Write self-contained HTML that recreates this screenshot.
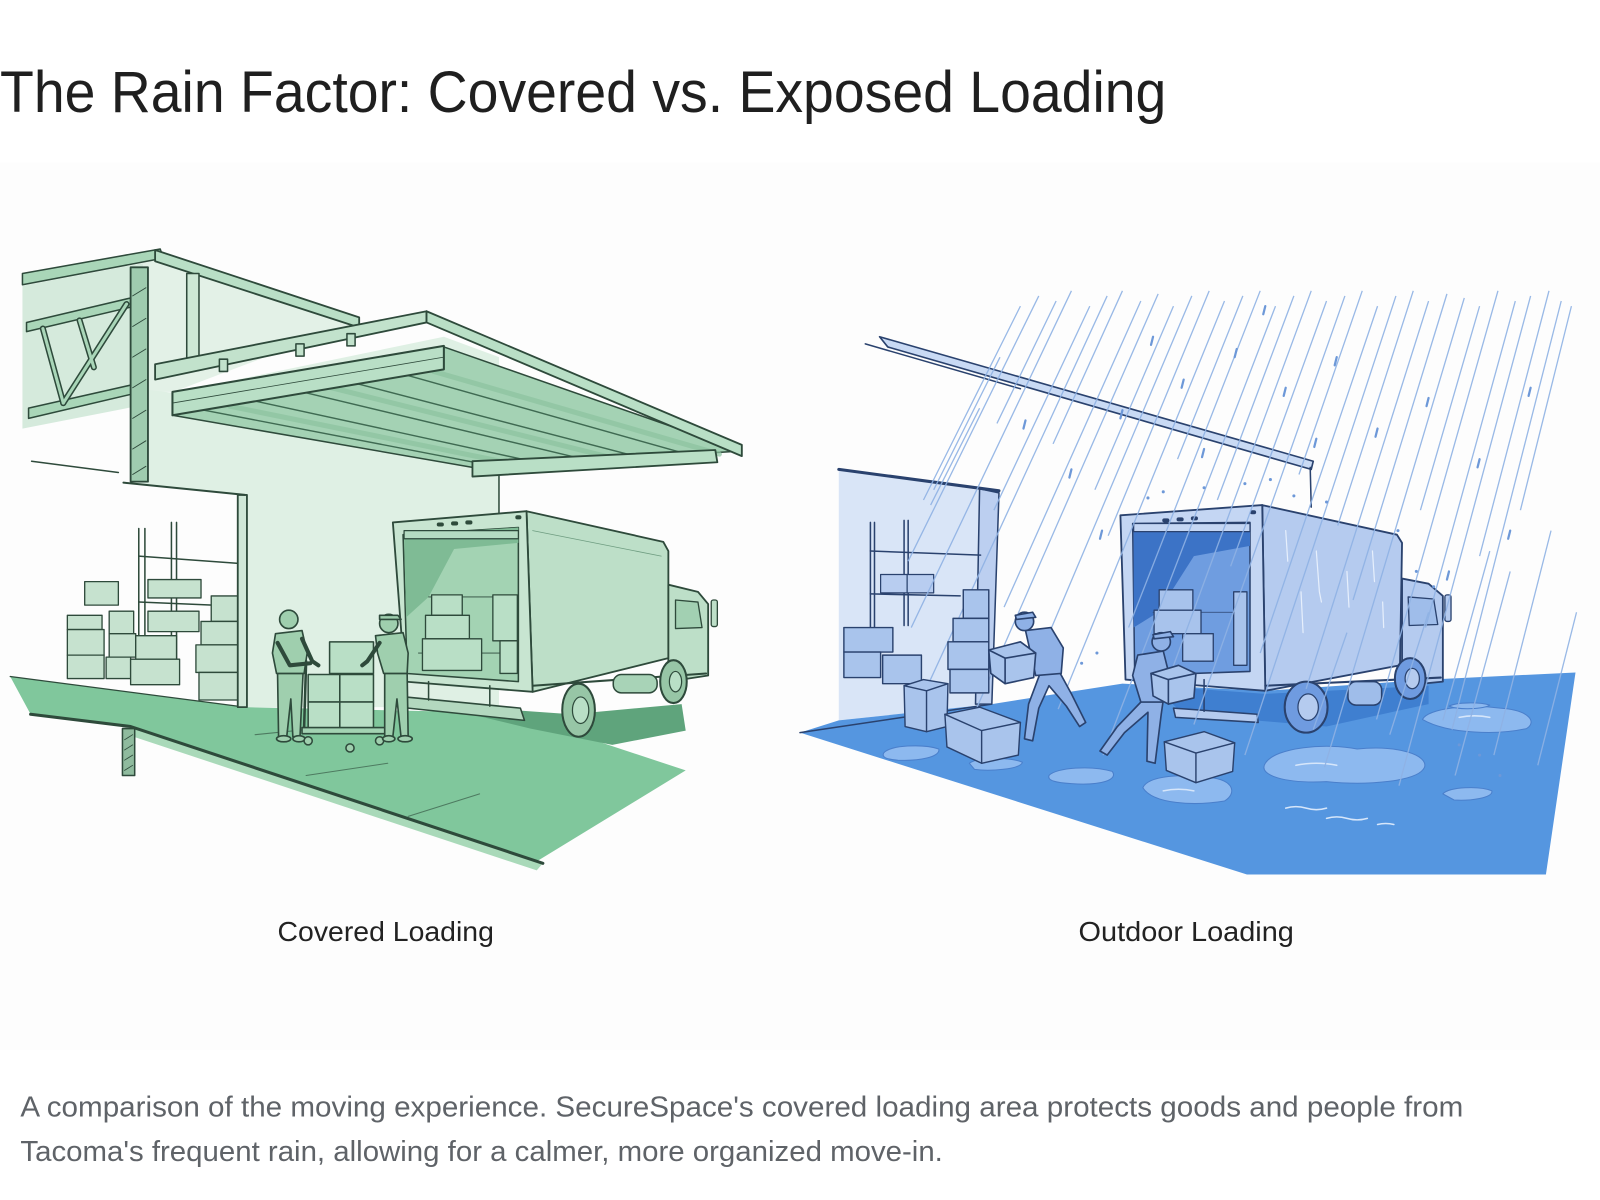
<!DOCTYPE html>
<html><head><meta charset="utf-8"><style>
html,body{margin:0;padding:0;background:#fff;width:1600px;height:1200px;overflow:hidden}
svg{display:block}
</style></head><body>
<svg width="1600" height="1200" viewBox="0 0 1568 1176" xmlns="http://www.w3.org/2000/svg" font-family="'Liberation Sans', Arial, sans-serif">
<rect x="0" y="0" width="1568" height="1176" fill="#fff"/>
<rect x="0" y="159" width="1568" height="870" fill="#fdfdfd"/>
<text x="0" y="110" font-size="57" fill="#1f1f1f" textLength="1143" lengthAdjust="spacingAndGlyphs">The Rain Factor: Covered vs. Exposed Loading</text>

<!-- ================= LEFT: COVERED ================= -->
<g stroke="#2e4a3b" stroke-linejoin="round" stroke-linecap="round">
  <polygon points="22,280 150,256 150,395 22,420" fill="#d5eadc" stroke="none"/>
  <polygon points="140,250 350,316 170,384 140,384" fill="#e3f1e7" stroke="none"/>
  <polygon points="128,380 170,385 435,330 489,350 489,693 240,693 240,485 128,473" fill="#dff0e4" stroke="none"/>
  <line x1="489" y1="452" x2="489" y2="505" stroke-width="1.5"/>
  <line x1="31" y1="452" x2="116" y2="463" stroke-width="1.5"/>

  <!-- floor -->
  <polygon points="10,663 240,693 470,698 560,718 672,755 523,846 128,712 30,700" fill="#80c79c" stroke="none"/>
  <polygon points="128,712 532,846 526,853 128,721" fill="#a9d9b9" stroke="none"/>
  <polyline points="30,700 128,712 532,846" fill="none" stroke-width="3"/>
  <line x1="10" y1="663" x2="240" y2="693" stroke-width="1.2"/>
  <line x1="300" y1="760" x2="380" y2="748" stroke-width="1" stroke="#4d7a60"/>
  <line x1="400" y1="800" x2="470" y2="778" stroke-width="1" stroke="#4d7a60"/>
  <line x1="250" y1="720" x2="330" y2="712" stroke-width="1" stroke="#4d7a60"/>
  <rect x="120" y="714" width="12" height="46" fill="#8fbb9e" stroke-width="1.5"/>
  <line x1="122" y1="725" x2="130" y2="720" stroke-width="0.8"/>
  <line x1="122" y1="735" x2="130" y2="730" stroke-width="0.8"/>
  <line x1="122" y1="745" x2="130" y2="740" stroke-width="0.8"/>
  <line x1="122" y1="755" x2="130" y2="750" stroke-width="0.8"/>

  <!-- shelves inside -->
  <g stroke-width="1.5" fill="none">
    <line x1="136" y1="518" x2="136" y2="665"/>
    <line x1="142" y1="518" x2="142" y2="665"/>
    <line x1="168" y1="512" x2="168" y2="650"/>
    <line x1="173" y1="512" x2="173" y2="650"/>
    <line x1="136" y1="545" x2="232" y2="552"/>
    <line x1="136" y1="590" x2="232" y2="594"/>
  </g>
  <g fill="#c6e2cf" stroke-width="1.3">
    <rect x="83" y="570" width="33" height="23"/>
    <rect x="145" y="568" width="52" height="18"/>
    <rect x="66" y="603" width="34" height="14"/>
    <rect x="66" y="617" width="36" height="25"/>
    <rect x="66" y="642" width="36" height="23"/>
    <rect x="107" y="599" width="24" height="22"/>
    <rect x="107" y="621" width="26" height="23"/>
    <rect x="104" y="644" width="24" height="21"/>
    <rect x="145" y="599" width="50" height="20"/>
    <rect x="133" y="623" width="40" height="23"/>
    <rect x="128" y="646" width="48" height="25"/>
    <rect x="207" y="584" width="26" height="25"/>
    <rect x="197" y="609" width="36" height="23"/>
    <rect x="192" y="632" width="41" height="27"/>
    <rect x="195" y="659" width="38" height="27"/>
  </g>

  <rect x="233" y="485" width="9" height="208" fill="#cfe7d7" stroke-width="1.8"/>
  <polyline points="121,473 240,485" fill="none" stroke-width="2"/>

  <!-- truss -->
  <polygon points="22,268 157,244 160,253 22,279" fill="#a9d6b8" stroke-width="1.5"/>
  <polygon points="26,316 128,292 128,301 26,325" fill="#a9d6b8" stroke-width="1.5"/>
  <polygon points="28,400 143,374 143,383 28,410" fill="#a9d6b8" stroke-width="1.5"/>
  <g stroke-width="6" stroke="#2e4a3b"><line x1="42" y1="322" x2="62" y2="395"/><line x1="62" y1="395" x2="124" y2="298"/><line x1="78" y1="314" x2="92" y2="360"/></g>
  <g stroke-width="3" stroke="#a9d6b8"><line x1="42" y1="322" x2="62" y2="395"/><line x1="62" y1="395" x2="124" y2="298"/><line x1="78" y1="314" x2="92" y2="360"/></g>
  <rect x="128" y="262" width="17" height="210" fill="#9fccaf" stroke-width="1.8"/>
  <g stroke-width="0.9"><line x1="130" y1="290" x2="143" y2="282"/><line x1="130" y1="320" x2="143" y2="312"/><line x1="130" y1="350" x2="143" y2="342"/><line x1="130" y1="380" x2="143" y2="372"/><line x1="130" y1="410" x2="143" y2="402"/><line x1="130" y1="440" x2="143" y2="432"/><line x1="130" y1="465" x2="143" y2="457"/></g>
  <polygon points="152,245 352,311 352,321 152,256" fill="#b9dfc6" stroke-width="1.8"/>
  <rect x="183" y="268" width="12" height="95" fill="#cde8d5" stroke-width="1.5"/>

  <!-- canopy underside -->
  <polygon points="169,407 435,340 727,442 463,458" fill="#a4d2b4" stroke-width="1.5"/>
  <g stroke-width="1.4" stroke="#3f6a52">
    <line x1="200" y1="402" x2="480" y2="456"/>
    <line x1="250" y1="393" x2="530" y2="454"/>
    <line x1="300" y1="385" x2="580" y2="452"/>
    <line x1="350" y1="376" x2="630" y2="449"/>
    <line x1="400" y1="368" x2="680" y2="447"/>
  </g>
  <g stroke-width="5" stroke="#8cc3a0" opacity="0.7">
    <line x1="225" y1="398" x2="505" y2="455"/>
    <line x1="325" y1="380" x2="605" y2="450"/>
    <line x1="425" y1="364" x2="705" y2="445"/>
  </g>
  <polygon points="152,357 418,305 418,316 152,372" fill="#c2e2cc" stroke-width="1.8"/>
  <polygon points="418,305 727,436 727,447 418,316" fill="#b9dfc6" stroke-width="1.8"/>
  <g stroke-width="1.5" fill="#c2e2cc">
    <rect x="215" y="352" width="8" height="12"/>
    <rect x="290" y="337" width="8" height="12"/>
    <rect x="340" y="327" width="8" height="12"/>
  </g>
  <polygon points="169,384 435,339 435,362 169,407" fill="#b9dfc6" stroke-width="2"/>
  <line x1="169" y1="395" x2="435" y2="350" stroke-width="0.8"/>
  <polygon points="463,452 701,441 703,453 463,467" fill="#b9dfc6" stroke-width="1.8"/>

  <!-- truck -->
  <polygon points="420,690 560,700 668,690 672,716 600,730 520,714" fill="#5fa47c" stroke="none"/>
  <polygon points="516,501 650,531 655,540 655,645 522,678" fill="#bddfc8" stroke-width="1.8"/>
  <line x1="522" y1="520" x2="648" y2="545" stroke-width="0.8" stroke="#6e9c80"/>
  <polygon points="385,512 516,501 522,678 397,668" fill="#c8e5d1" stroke-width="1.8"/>
  <polygon points="395,524 508,517 508,668 399,660" fill="#a3d3b3" stroke-width="1.5"/>
  <polygon points="396,524 508,517 508,532 445,538 420,585 398,605" fill="#7fbb95" stroke="none"/>
  <rect x="396" y="520" width="112" height="8" fill="#b5dcc2" stroke-width="1.2"/>
  <line x1="420" y1="585" x2="505" y2="585" stroke-width="0.8"/>
  <line x1="410" y1="640" x2="508" y2="640" stroke-width="0.8"/>
  <g fill="#2e4a3b" stroke="none">
    <rect x="428" y="512" width="7" height="4" rx="2"/>
    <rect x="442" y="511" width="7" height="4" rx="2"/>
    <rect x="456" y="510" width="7" height="4" rx="2"/>
    <rect x="505" y="505" width="6" height="4" rx="2"/>
  </g>
  <g fill="#b9dfc6" stroke-width="1.3">
    <rect x="423" y="583" width="30" height="20"/>
    <rect x="417" y="603" width="43" height="23"/>
    <rect x="414" y="626" width="58" height="31"/>
    <rect x="483" y="583" width="24" height="45"/>
    <rect x="490" y="628" width="17" height="32"/>
  </g>
  <polygon points="655,573 684,580 694,592 694,662 655,668" fill="#bddfc8" stroke-width="1.8"/>
  <polygon points="662,588 684,590 688,615 662,616" fill="#a2d0b2" stroke-width="1.3"/>
  <rect x="697" y="588" width="6" height="26" rx="2" fill="#bddfc8" stroke-width="1.3"/>
  <line x1="522" y1="672" x2="692" y2="660" stroke-width="2"/>
  <rect x="601" y="661" width="43" height="18" rx="8" fill="#a8d3b7" stroke-width="1.5"/>
  <ellipse cx="567" cy="696" rx="16" ry="26" fill="#97c6a6" stroke-width="2"/>
  <ellipse cx="569" cy="696" rx="8" ry="13" fill="#b9dfc6" stroke-width="1.2"/>
  <ellipse cx="660" cy="668" rx="13" ry="21" fill="#97c6a6" stroke-width="2"/>
  <ellipse cx="662" cy="668" rx="6" ry="10" fill="#b9dfc6" stroke-width="1.2"/>
  <polygon points="397,683 510,694 514,706 400,694" fill="#b3d8bf" stroke-width="1.5"/>
  <line x1="420" y1="668" x2="420" y2="686" stroke-width="1.5"/>
  <line x1="480" y1="672" x2="480" y2="692" stroke-width="1.5"/>

  <!-- left man -->
  <g fill="#9fcfae" stroke-width="1.6">
    <polygon points="272,660 297,660 294,722 287,722 285,685 281,722 273,722"/>
    <path d="M270,621 L296,618 L301,640 L298,660 L271,660 L267,640 Z"/>
    <circle cx="283" cy="607" r="9"/>
    <path d="M296,626 L306,648 L312,652" fill="none" stroke-width="4"/>
    <path d="M272,630 L284,652 L304,650" fill="none" stroke-width="4"/>
    <ellipse cx="278" cy="724" rx="7" ry="3"/>
    <ellipse cx="293" cy="724" rx="6" ry="3"/>
  </g>
  <g fill="#b9dfc6" stroke-width="1.5">
    <line x1="300" y1="648" x2="298" y2="714" stroke-width="2.5"/>
    <rect x="302" y="661" width="31" height="27"/>
    <rect x="333" y="661" width="33" height="27"/>
    <rect x="302" y="688" width="31" height="26"/>
    <rect x="333" y="688" width="33" height="26"/>
    <rect x="323" y="629" width="43" height="31"/>
    <rect x="296" y="713" width="86" height="6" fill="#a3d3b3"/>
    <circle cx="302" cy="726" r="4" fill="#9fcfae"/>
    <circle cx="343" cy="733" r="4" fill="#9fcfae"/>
    <circle cx="372" cy="726" r="4" fill="#9fcfae"/>
  </g>
  <g fill="#9fcfae" stroke-width="1.6">
    <polygon points="377,660 399,660 400,722 393,722 389,685 385,722 377,722"/>
    <path d="M368,623 L395,620 L400,640 L399,660 L376,660 L370,640 Z"/>
    <circle cx="381" cy="611" r="9"/>
    <path d="M372,603 L390,603 L393,607 L372,607 Z"/>
    <path d="M372,630 L360,648 L355,652" fill="none" stroke-width="4"/>
    <ellipse cx="381" cy="724" rx="6" ry="3"/>
    <ellipse cx="397" cy="724" rx="7" ry="3"/>
  </g>
</g>

<!-- ================= RIGHT: OUTDOOR ================= -->
<g stroke="#2a426e" stroke-linejoin="round" stroke-linecap="round">
  <polygon points="822,460 979,483 972,690 822,706" fill="#d9e5f7" stroke="none"/>
  <polygon points="960,479 979,483 972,690 956,690" fill="#bccff0" stroke-width="1.5"/>
  <line x1="822" y1="460" x2="979" y2="481" stroke-width="3"/>
  <g stroke-width="1.5" fill="none">
    <line x1="853" y1="512" x2="853" y2="615"/>
    <line x1="857" y1="512" x2="857" y2="615"/>
    <line x1="886" y1="510" x2="886" y2="613"/>
    <line x1="890" y1="510" x2="890" y2="613"/>
    <line x1="853" y1="540" x2="961" y2="544"/>
    <line x1="853" y1="582" x2="941" y2="584"/>
  </g>
  <rect x="863" y="563" width="26" height="18" fill="#b8cdf0" stroke-width="1.2"/>
  <rect x="889" y="563" width="26" height="18" fill="#b8cdf0" stroke-width="1.2"/>

  <polygon points="784,718 822,706 972,690 1100,670 1240,677 1400,666 1544,659 1515,857 1222,857" fill="#5596e0" stroke="none"/>
  <line x1="784" y1="718" x2="972" y2="690" stroke-width="1.5"/>

  <!-- overhang beam -->
  <line x1="848" y1="337" x2="1000" y2="381" stroke-width="1.5"/>
  <polygon points="862,330 1287,452 1285,460 870,340" fill="#c9daf4" stroke-width="1.6"/>
  <line x1="1284" y1="458" x2="1285" y2="497" stroke-width="1.5"/>

  <!-- puddles -->
  <g fill="#8db9ef" stroke="#4a7fcb" stroke-width="1">
    <path d="M1240,748 C1250,732 1300,728 1330,734 C1370,730 1400,740 1396,752 C1390,766 1340,770 1300,766 C1260,768 1232,760 1240,748 Z"/>
    <path d="M1394,705 C1400,694 1440,690 1470,694 C1500,696 1506,708 1496,714 C1470,720 1420,720 1394,705 Z"/>
    <path d="M1120,772 C1125,760 1160,758 1185,762 C1210,764 1212,778 1200,785 C1170,790 1130,788 1120,772 Z"/>
    <path d="M1028,760 C1035,752 1070,750 1090,756 C1096,764 1080,770 1050,768 C1035,767 1026,765 1028,760 Z"/>
    <path d="M866,738 C872,730 905,729 920,734 C922,742 900,746 880,745 C868,744 864,742 866,738 Z"/>
    <path d="M1414,778 C1420,771 1450,770 1462,775 C1464,782 1440,785 1425,784 Z"/>
    <path d="M950,748 C958,742 990,742 1002,747 C1000,754 970,756 955,754 Z"/>
    <path d="M1250,694 C1258,689 1282,689 1290,693 C1286,699 1262,700 1250,694 Z"/>
    <path d="M1420,692 C1428,688 1450,688 1460,691 C1454,695 1430,696 1420,692 Z"/>
  </g>
  <g stroke="#d6e6fa" stroke-width="1.5" fill="none">
    <path d="M1270,750 q20,-4 40,0"/>
    <path d="M1430,703 q15,-3 30,0"/>
    <path d="M1140,775 q15,-3 30,0"/>
    <path d="M1260,792 q10,-3 20,0 t20,0"/>
    <path d="M1300,802 q10,-3 20,0 t20,0"/>
    <path d="M1350,808 q8,-2 16,0"/>
  </g>

  <!-- truck -->
  <polygon points="1130,672 1240,680 1400,672 1400,690 1300,712 1160,700" fill="#3f7fd0" stroke="none"/>
  <polygon points="1237,495 1369,524 1374,532 1372,652 1240,677" fill="#b5cbef" stroke-width="1.8"/>
  <g stroke="#e6effc" stroke-width="1.2" fill="none">
    <path d="M1260,520 l2,30"/><path d="M1290,540 l3,40 l2,10"/><path d="M1320,560 l2,35"/><path d="M1345,540 l2,30"/><path d="M1275,580 l2,40"/><path d="M1355,590 l1,25"/>
  </g>
  <polygon points="1098,505 1237,495 1240,677 1103,666" fill="#c4d6f3" stroke-width="1.8"/>
  <polygon points="1110,513 1225,512 1225,658 1112,662" fill="#6f9de0" stroke-width="1.5"/>
  <polygon points="1111,520 1225,519 1225,535 1170,545 1135,600 1111,615" fill="#3c73c6" stroke="none"/>
  <rect x="1111" y="513" width="114" height="8" fill="#c4d6f3" stroke-width="1.2"/>
  <line x1="1130" y1="600" x2="1222" y2="600" stroke-width="0.8"/>
  <g fill="#2a426e" stroke="none">
    <rect x="1139" y="508" width="7" height="4" rx="2"/>
    <rect x="1153" y="507" width="7" height="4" rx="2"/>
    <rect x="1167" y="506" width="7" height="4" rx="2"/>
    <rect x="1225" y="500" width="6" height="4" rx="2"/>
  </g>
  <g fill="#a8c3ec" stroke-width="1.3">
    <rect x="1136" y="578" width="33" height="20"/>
    <rect x="1131" y="598" width="46" height="23"/>
    <rect x="1159" y="621" width="30" height="27"/>
    <rect x="1209" y="580" width="13" height="72"/>
  </g>
  <polygon points="1374,567 1400,572 1414,584 1414,668 1374,672" fill="#b5cbef" stroke-width="1.8"/>
  <polygon points="1380,585 1405,587 1409,612 1381,613" fill="#9fbdea" stroke-width="1.3"/>
  <rect x="1416" y="583" width="6" height="26" rx="2" fill="#b5cbef" stroke-width="1.3"/>
  <line x1="1240" y1="672" x2="1412" y2="664" stroke-width="2"/>
  <rect x="1321" y="668" width="33" height="23" rx="8" fill="#9fbdea" stroke-width="1.5"/>
  <ellipse cx="1280" cy="693" rx="21" ry="25" fill="#6f9be0" stroke-width="2"/>
  <ellipse cx="1282" cy="693" rx="10" ry="13" fill="#b5cbef" stroke-width="1.2"/>
  <ellipse cx="1382" cy="665" rx="15" ry="20" fill="#6f9be0" stroke-width="2"/>
  <ellipse cx="1384" cy="665" rx="7" ry="10" fill="#b5cbef" stroke-width="1.2"/>
  <polygon points="1150,694 1232,700 1233,708 1152,703" fill="#b5cbef" stroke-width="1.5"/>
  <line x1="1180" y1="666" x2="1180" y2="697" stroke-width="1.5"/>
</g>

<!-- rain -->
<g stroke="#8fb2e4" stroke-width="1.3" fill="none" opacity="0.9">
  <path d="M1000 300 l-95 190"/><path d="M1018 290 l-128 260"/><path d="M1035 295 l-58 120"/>
  <path d="M1050 285 l-157 330"/><path d="M1068 300 l-94 200"/><path d="M1085 290 l-175 380"/>
  <path d="M1100 285 l-68 150"/><path d="M1118 295 l-134 300"/><path d="M1135 288 l-184 420"/>
  <path d="M1150 300 l-77 180"/><path d="M1168 290 l-148 350"/><path d="M1185 285 l-99 240"/>
  <path d="M1200 295 l-163 400"/><path d="M1218 290 l-64 160"/><path d="M1235 285 l-129 330"/>
  <path d="M1250 300 l-169 440"/><path d="M1268 290 l-75 200"/><path d="M1285 285 l-136 370"/>
  <path d="M1300 295 l-94 260"/><path d="M1318 290 l-148 420"/><path d="M1335 285 l-62 180"/>
  <path d="M1350 300 l-115 340"/><path d="M1368 290 l-148 450"/><path d="M1385 285 l-74 230"/>
  <path d="M1400 295 l-120 380"/><path d="M1418 288 l-92 300"/><path d="M1435 292 l-137 460"/>
  <path d="M1450 300 l-58 200"/><path d="M1468 285 l-119 420"/><path d="M1485 295 l-88 320"/>
  <path d="M1500 290 l-129 480"/><path d="M1518 285 l-68 260"/><path d="M1530 295 l-107 420"/>
  <path d="M1540 300 l-50 200"/><path d="M1520 520 l-56 220"/><path d="M1480 560 l-54 200"/>
  <path d="M1545 600 l-38 150"/><path d="M1460 540 l-46 166"/><path d="M1400 600 l-38 120"/>
  <path d="M960 400 l-48 95"/><path d="M980 350 l-65 130"/><path d="M1320 620 l-33 95"/>
</g>
<g stroke="#6d98d8" stroke-width="2.2" fill="none" stroke-linecap="round">
  <path d="M1130 330 l-2 8"/><path d="M1160 372 l-2 8"/><path d="M1100 402 l-2 8"/><path d="M1005 412 l-2 8"/>
  <path d="M1212 342 l-2 8"/><path d="M1260 380 l-2 8"/><path d="M1310 350 l-2 8"/><path d="M1350 420 l-2 8"/>
  <path d="M1400 390 l-2 8"/><path d="M1450 450 l-2 8"/><path d="M1050 460 l-2 8"/><path d="M1180 440 l-2 8"/>
  <path d="M1290 430 l-2 8"/><path d="M1480 520 l-2 8"/><path d="M1420 560 l-2 8"/><path d="M1080 520 l-2 8"/>
  <path d="M1500 380 l-2 8"/><path d="M1240 300 l-2 8"/>
</g>
<g fill="#6d98d8">
  <circle cx="1125" cy="488" r="1.5"/><circle cx="1140" cy="482" r="1.5"/><circle cx="1180" cy="478" r="1.5"/>
  <circle cx="1220" cy="474" r="1.5"/><circle cx="1245" cy="470" r="1.5"/><circle cx="1268" cy="486" r="1.5"/>
  <circle cx="1300" cy="492" r="1.5"/><circle cx="1370" cy="520" r="1.5"/><circle cx="1388" cy="560" r="1.5"/>
  <circle cx="1405" cy="575" r="1.5"/><circle cx="1060" cy="650" r="1.5"/><circle cx="1075" cy="640" r="1.5"/>
  <circle cx="1450" cy="740" r="1.5"/><circle cx="1470" cy="760" r="1.5"/><circle cx="1430" cy="730" r="1.5"/>
</g>

<!-- right foreground -->
<g stroke="#2a426e" stroke-linejoin="round" stroke-linecap="round" fill="#a9c4ec" stroke-width="1.4">
  <rect x="944" y="578" width="25" height="28"/>
  <rect x="934" y="606" width="35" height="23"/>
  <rect x="929" y="629" width="40" height="27"/>
  <rect x="931" y="656" width="38" height="23"/>
  <rect x="827" y="615" width="48" height="24"/>
  <rect x="827" y="639" width="36" height="25"/>
  <rect x="865" y="642" width="38" height="28"/>
  <polygon points="886,672 905,666 929,670 928,712 908,717 887,712"/>
  <polyline points="886,672 908,677 929,670" fill="none"/>
  <line x1="908" y1="677" x2="908" y2="717"/>
  <polygon points="926,700 960,693 1000,708 998,740 962,748 928,732"/>
  <polyline points="926,700 962,716 1000,708" fill="none"/>
  <line x1="962" y1="716" x2="962" y2="748"/>
  <polygon points="1141,727 1180,717 1210,728 1208,756 1172,767 1143,755"/>
  <polyline points="1141,727 1172,738 1210,728" fill="none"/>
  <line x1="1172" y1="738" x2="1172" y2="767"/>
</g>
<g stroke="#2a426e" stroke-linejoin="round" stroke-linecap="round" fill="#8fb1e6" stroke-width="1.6">
  <path d="M1020,658 L1008,690 L1004,724 L1012,726 L1018,694 L1028,672 L1045,692 L1058,712 L1064,708 L1050,680 L1038,658 Z"/>
  <path d="M1005,618 L1030,615 L1042,635 L1040,660 L1015,662 Z"/>
  <circle cx="1004" cy="609" r="9"/>
  <path d="M995,603 L1012,600 L1015,605 L996,607 Z"/>
  <polygon points="969,637 1000,629 1015,640 1013,664 985,670 971,660" fill="#a9c4ec"/>
  <polyline points="969,637 985,645 1015,640" fill="none"/>
  <line x1="985" y1="645" x2="985" y2="670"/>
  <path d="M1120,686 L1095,712 L1078,736 L1085,740 L1102,718 L1125,698 L1124,746 L1132,748 L1138,700 L1140,686 Z"/>
  <path d="M1115,642 L1140,638 L1146,662 L1140,688 L1118,688 L1110,662 Z"/>
  <circle cx="1138" cy="629" r="9"/>
  <path d="M1130,622 L1147,619 L1150,624 L1131,626 Z"/>
  <polygon points="1128,660 1155,652 1172,660 1170,684 1145,690 1130,682" fill="#a9c4ec"/>
  <polyline points="1128,660 1145,666 1172,660" fill="none"/>
  <line x1="1145" y1="666" x2="1145" y2="690"/>
</g>

<text x="272" y="922" font-size="27" fill="#222" textLength="212" lengthAdjust="spacingAndGlyphs">Covered Loading</text>
<text x="1057" y="922" font-size="27" fill="#222" textLength="211" lengthAdjust="spacingAndGlyphs">Outdoor Loading</text>

<text x="20" y="1094" font-size="28" fill="#5f6368" textLength="1414" lengthAdjust="spacingAndGlyphs">A comparison of the moving experience. SecureSpace's covered loading area protects goods and people from</text>
<text x="20" y="1138" font-size="28" fill="#5f6368" textLength="904" lengthAdjust="spacingAndGlyphs">Tacoma's frequent rain, allowing for a calmer, more organized move-in.</text>
</svg>
</body></html>
